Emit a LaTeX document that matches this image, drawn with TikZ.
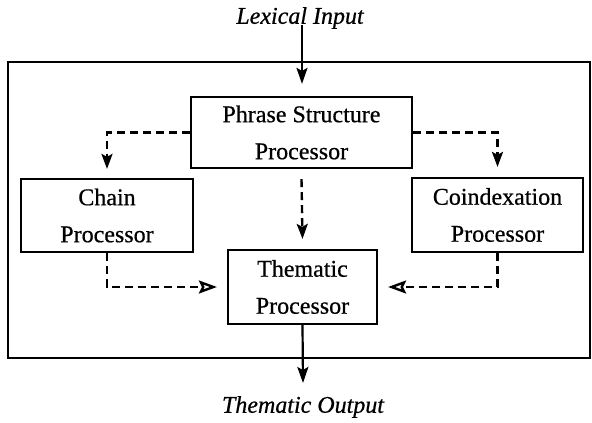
\documentclass[tikz,border=0pt]{standalone}
\usepackage{fontspec}
\setmainfont{Liberation Serif}[BoldFont=Liberation Serif, BoldFeatures={FakeBold=0.6},
  BoldItalicFont=Liberation Serif Italic, BoldItalicFeatures={FakeBold=0.6}]
\usetikzlibrary{arrows.meta}
\begin{document}
\begin{tikzpicture}[x=1pt,y=-1pt,
  proc/.style={draw, line width=2.2pt, inner sep=0pt, align=center,
    font=\fontsize{24}{37}\selectfont\bfseries},
  lbl/.style={inner sep=0pt, font=\fontsize{24}{28}\selectfont\bfseries\itshape},
  solidarrow/.style={line width=2.2pt, -{Stealth[length=16pt,width=11pt,inset=3pt]}},
  dasharrow/.style={line width=2.4pt, dash pattern=on 8pt off 5pt, -{Stealth[length=15pt,width=11pt,inset=3pt]}},
  openarrow/.style={line width=2.4pt, dash pattern=on 8pt off 5pt, -{Stealth[open,length=18pt,width=13pt,inset=3pt]}},
  frame/.style={draw, line width=2.2pt}]
\useasboundingbox (0,0) rectangle (592,423);
\draw[frame] (8,62) rectangle (590,358);
\node[lbl] (lex) at (300,18) {Lexical Input};
\node[lbl] (out) at (303,407) {Thematic Output};
\node[proc, minimum width=221pt, minimum height=71pt] (ps) at (301.5,132.5) {Phrase Structure\\Processor};
\node[proc, minimum width=172pt, minimum height=73pt] (chain) at (107,215.5) {Chain\\Processor};
\node[proc, minimum width=171pt, minimum height=74pt] (coind) at (497.5,215) {Coindexation\\Processor};
\node[proc, minimum width=149pt, minimum height=74pt] (them) at (302.5,287) {Thematic\\Processor};
\coordinate (outtip) at (303,383);
\draw[solidarrow] ([xshift=2pt,yshift=4pt]lex.south) -- ([xshift=0.5pt,yshift=12pt]ps.north);
\draw[solidarrow] (them.south) -- (outtip);
\draw[dasharrow] (ps.west) -| ([yshift=9pt]chain.north);
\draw[dasharrow] (ps.east) -| ([yshift=10pt]coind.north);
\draw[dasharrow] ([yshift=-10pt]ps.south) -- ([yshift=10pt]them.north);
\draw[openarrow] (chain.south) |- ([xshift=-10pt]them.west);
\draw[openarrow] (coind.south) |- ([xshift=10pt]them.east);
\end{tikzpicture}
\end{document}
